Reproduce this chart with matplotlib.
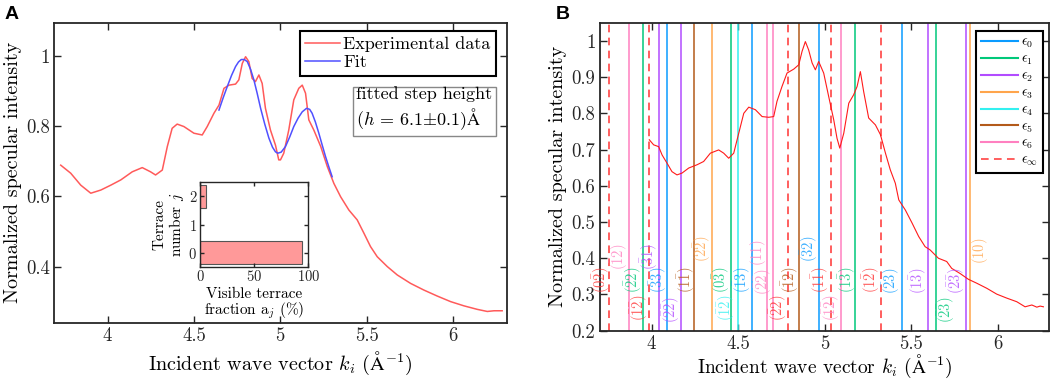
import numpy as np
import matplotlib
matplotlib.use('Agg')
import matplotlib.pyplot as plt

plt.rcParams['font.family'] = ['cmr10', 'DejaVu Serif']
plt.rcParams['mathtext.fontset'] = 'cm'
plt.rcParams['axes.formatter.use_mathtext'] = True
plt.rcParams['axes.unicode_minus'] = False

# ---- panel A data ----
k_a = [3.729, 3.787, 3.845, 3.903, 3.961, 4.019, 4.077, 4.143, 4.201, 4.249,
       4.278, 4.317, 4.346, 4.374, 4.403, 4.442, 4.500, 4.548, 4.577, 4.616,
       4.645, 4.674, 4.703, 4.741, 4.760, 4.780, 4.799, 4.818, 4.837, 4.856,
       4.876, 4.895, 4.914, 4.943, 4.972, 4.991, 5.001, 5.020, 5.049, 5.078,
       5.107, 5.127, 5.146, 5.165, 5.194, 5.234, 5.272, 5.310, 5.349, 5.397,
       5.445, 5.484, 5.522, 5.561, 5.619, 5.677, 5.754, 5.831, 5.908, 5.986,
       6.063, 6.140, 6.198, 6.237, 6.284]
i_a = [0.689, 0.666, 0.632, 0.609, 0.618, 0.632, 0.647, 0.670, 0.682, 0.670,
       0.661, 0.675, 0.742, 0.794, 0.806, 0.799, 0.780, 0.775, 0.799, 0.837,
       0.860, 0.908, 0.917, 0.920, 0.932, 0.979, 0.998, 0.984, 0.936, 0.927,
       0.946, 0.922, 0.851, 0.789, 0.746, 0.704, 0.704, 0.723, 0.789, 0.875,
       0.908, 0.917, 0.894, 0.818, 0.789, 0.742, 0.685, 0.637, 0.599, 0.561,
       0.533, 0.495, 0.457, 0.428, 0.400, 0.376, 0.352, 0.333, 0.316, 0.300,
       0.288, 0.278, 0.272, 0.274, 0.274]

k_fit = [4.645, 4.670, 4.693, 4.718, 4.741, 4.758, 4.774, 4.792, 4.809, 4.828,
         4.847, 4.866, 4.886, 4.910, 4.934, 4.955, 4.972, 4.985, 5.005, 5.030,
         5.055, 5.078, 5.103, 5.127, 5.152, 5.170, 5.184, 5.203, 5.223, 5.242,
         5.262, 5.281, 5.300]
i_fit = [0.846, 0.882, 0.913, 0.945, 0.970, 0.983, 0.990, 0.990, 0.984, 0.962,
         0.932, 0.894, 0.851, 0.806, 0.766, 0.740, 0.727, 0.723, 0.726, 0.742,
         0.770, 0.799, 0.823, 0.841, 0.851, 0.848, 0.837, 0.812, 0.780, 0.747,
         0.713, 0.684, 0.656]

terrace = [0, 2]
fraction = [94.5, 5.5]

# ---- panel B data ----
k_b = [3.987, 4.012, 4.041, 4.061, 4.090, 4.118, 4.147, 4.176, 4.215, 4.263,
       4.301, 4.340, 4.388, 4.417, 4.446, 4.475, 4.504, 4.533, 4.562, 4.600,
       4.639, 4.677, 4.706, 4.725, 4.754, 4.783, 4.822, 4.851, 4.870, 4.889,
       4.908, 4.928, 4.947, 4.966, 4.995, 5.024, 5.053, 5.072, 5.088, 5.111,
       5.140, 5.168, 5.188, 5.207, 5.226, 5.255, 5.294, 5.323, 5.352, 5.380,
       5.409, 5.429, 5.467, 5.506, 5.544, 5.581, 5.610, 5.658, 5.706, 5.735,
       5.783, 5.831, 5.880, 5.938, 5.995, 6.053, 6.111, 6.159, 6.198, 6.227,
       6.246, 6.265]
i_b = [0.727, 0.713, 0.708, 0.685, 0.662, 0.639, 0.630, 0.635, 0.649, 0.658,
       0.667, 0.690, 0.699, 0.690, 0.676, 0.690, 0.745, 0.800, 0.817, 0.810,
       0.791, 0.789, 0.791, 0.833, 0.874, 0.911, 0.922, 0.934, 0.971, 0.998,
       0.975, 0.939, 0.920, 0.943, 0.911, 0.846, 0.782, 0.731, 0.704, 0.745,
       0.828, 0.851, 0.874, 0.915, 0.860, 0.787, 0.768, 0.741, 0.690, 0.644,
       0.607, 0.561, 0.533, 0.497, 0.460, 0.432, 0.423, 0.400, 0.391, 0.372,
       0.358, 0.342, 0.331, 0.317, 0.301, 0.290, 0.280, 0.266, 0.271, 0.265,
       0.268, 0.266]

eps_names = ['0', '1', '2', '3', '4', '5', '6', 'inf']
eps_colors = ['#0a9bff', '#00c87a', '#b24cff', '#ffa54c', '#33f0f0',
              '#b35a1a', '#ff80c0', '#ff3333']

line_k = [3.756, 3.870, 3.953, 3.987, 4.045, 4.088, 4.170, 4.246, 4.352,
          4.460, 4.502, 4.583, 4.670, 4.701, 4.787, 4.854, 4.965, 5.037,
          5.096, 5.178, 5.327, 5.449, 5.596, 5.647, 5.820, 5.841]
line_eps = ['inf', '6', '1', 'inf', '2', '0', '2', '5', '3',
            '1', '4', '0', '6', '6', 'inf', '5', '0', 'inf',
            '6', '1', 'inf', '0', '2', '1', '2', '3']

label_k = [3.710, 3.812, 3.896, 3.929, 3.990, 4.039, 4.116, 4.200, 4.294,
           4.402, 4.435, 4.527, 4.618, 4.647, 4.733, 4.804, 4.910, 4.976,
           5.039, 5.131, 5.269, 5.386, 5.543, 5.704, 5.759, 5.900]
label_y = [0.340, 0.404, 0.340, 0.262, 0.404, 0.340, 0.258, 0.340, 0.425,
           0.340, 0.262, 0.340, 0.414, 0.336, 0.262, 0.340, 0.425, 0.340,
           0.262, 0.340, 0.340, 0.337, 0.337, 0.257, 0.337, 0.420]
label_txt = [r'0\bar{2}', r'\bar{1}2', r'\bar{2}2', r'\bar{1}\bar{2}', r'\bar{3}1',
             r'\bar{3}3', r'\bar{2}\bar{2}', r'1\bar{1}', r'2\bar{2}', r'0\bar{3}',
             r'\bar{1}\bar{2}', r'\bar{1}3', r'11', r'\bar{2}\bar{2}', r'\bar{2}2',
             r'\bar{1}2', r'\bar{3}2', r'1\bar{1}', r'\bar{1}\bar{2}', r'1\bar{3}',
             r'1\bar{2}', r'\bar{2}3', r'1\bar{3}', r'\bar{2}\bar{3}', r'\bar{2}\bar{3}',
             r'10']
label_eps = ['inf', '6', '1', 'inf', '2', '0', '2', '5', '3',
             '1', '4', '0', '6', '6', 'inf', '5', '0', 'inf',
             '6', '1', 'inf', '0', '2', '1', '2', '3']

col = dict(zip(eps_names, eps_colors))

fig = plt.figure(figsize=(10.52, 3.8), dpi=100)


def style(ax, fs=13.5):
    ax.tick_params(direction='in', top=True, right=True, length=5, width=1,
                   labelsize=fs, colors='#262626', pad=3)
    for s in ax.spines.values():
        s.set_linewidth(1.3)
        s.set_color('#262626')


# ---------------- panel A ----------------
axA = fig.add_axes([0.0513, 0.1508, 0.4303, 0.7895])
axA.plot(k_a, i_a, color='#ff5a5a', lw=1.1, label='Experimental data')
axA.plot(k_fit, i_fit, color='#5050ff', lw=1.1, label='Fit')
axA.set_xlim(3.69, 6.31)
axA.set_ylim(0.24, 1.095)
axA.set_xticks([4, 4.5, 5, 5.5, 6])
axA.set_xticklabels(['4', '4.5', '5', '5.5', '6'])
axA.set_yticks([0.4, 0.6, 0.8, 1.0])
axA.set_yticklabels(['0.4', '0.6', '0.8', '1'])
axA.set_xlabel(r'Incident wave vector $k_i$ ($\mathrm{\AA}^{-1}$)', fontsize=14.5, labelpad=4)
axA.set_ylabel('Normalized specular intensity', fontsize=14.5, labelpad=3)
style(axA)
leg = axA.legend(loc='upper right', bbox_to_anchor=(0.976, 0.972), borderaxespad=0,
                 fontsize=13, handlelength=1.9, handletextpad=0.2, fancybox=False,
                 framealpha=1, edgecolor='black', borderpad=0.3, labelspacing=0.12)
leg.get_frame().set_linewidth(1.5)
axA.text(0.969, 0.787, 'fitted step height\n' + r'($h$ = 6.1$\pm$0.1)$\mathrm{\AA}$',
         transform=axA.transAxes, ha='right', va='top', fontsize=13,
         multialignment='left',
         bbox=dict(boxstyle='square,pad=0.2', fc='white', ec='#888888', lw=1))

axI = fig.add_axes([0.1901, 0.2982, 0.103, 0.222])
axI.barh(terrace, fraction, height=0.8, color='#ff9999', edgecolor='#555555', lw=0.8)
axI.set_xlim(0, 100)
axI.set_ylim(-0.5, 2.5)
axI.set_xticks([0, 50, 100])
axI.set_yticks([0, 1, 2])
axI.set_xlabel('Visible terrace\nfraction a$_j$ (%)', fontsize=11, labelpad=2, linespacing=1.0)
axI.set_ylabel('Terrace\nnumber $j$', fontsize=11, labelpad=2, linespacing=1.0)
style(axI, fs=10.5)
axI.tick_params(length=3, pad=2)
for s in axI.spines.values():
    s.set_linewidth(1.0)

fig.text(0.004, 0.985, 'A', fontsize=14, fontweight='bold', family='Liberation Sans',
         va='top', ha='left')

# ---------------- panel B ----------------
axB = fig.add_axes([0.570, 0.1297, 0.4276, 0.8105])
for kk, ee in zip(line_k, line_eps):
    if ee == 'inf':
        axB.axvline(kk, color=col[ee], lw=1.1, ls=(0, (5, 3.5)))
    else:
        axB.axvline(kk, color=col[ee], lw=1.1)
axB.plot(k_b, i_b, color='#ff1a1a', lw=0.8)
for kk, yy, tt, ee in zip(label_k, label_y, label_txt, label_eps):
    axB.text(kk, yy, '$(' + tt + ')$', color=col[ee], rotation=90, fontsize=10.5,
             ha='center', va='center', alpha=0.8)

# legend handles
handles = []
for nm in eps_names:
    if nm == 'inf':
        h, = axB.plot([], [], color=col[nm], lw=1.1, ls=(0, (5, 3.5)),
                      label=r'$\epsilon_\infty$')
    else:
        h, = axB.plot([], [], color=col[nm], lw=1.5, label=r'$\epsilon_%s$' % nm)
    handles.append(h)
legB = axB.legend(handles=handles, loc='upper right', bbox_to_anchor=(0.985, 0.972),
                  borderaxespad=0, fontsize=10, handlelength=2.7, handletextpad=0.2,
                  fancybox=False, framealpha=1, edgecolor='black', borderpad=0.35,
                  labelspacing=0.2)
legB.get_frame().set_linewidth(1.5)

axB.set_xlim(3.7, 6.3)
axB.set_ylim(0.2, 1.05)
axB.set_xticks([4, 4.5, 5, 5.5, 6])
axB.set_xticklabels(['4', '4.5', '5', '5.5', '6'])
axB.set_yticks(np.round(np.arange(0.2, 1.01, 0.1), 1))
axB.set_yticklabels(['0.2', '0.3', '0.4', '0.5', '0.6', '0.7', '0.8', '0.9', '1'])
axB.set_xlabel(r'Incident wave vector $k_i$ ($\mathrm{\AA}^{-1}$)', fontsize=14, labelpad=0)
axB.set_ylabel('Normalized specular intensity', fontsize=14.5, labelpad=3)
style(axB)

fig.text(0.528, 0.985, 'B', fontsize=14, fontweight='bold', family='Liberation Sans',
         va='top', ha='left')

fig.savefig('out.png', dpi=100)
